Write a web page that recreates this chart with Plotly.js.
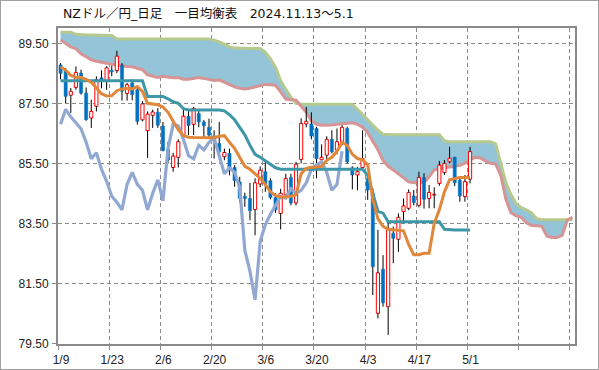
<!DOCTYPE html>
<html><head><meta charset="utf-8">
<script src="https://cdn.plot.ly/plotly-3.0.1.min.js"></script>
<style>html,body{margin:0;padding:0;background:#fff}#chart{width:597px;height:368px;border:1px solid #a0a0a0}</style>
</head><body><div id="chart"></div>
<script>
const dateLabels = ['1/9','1/23','2/6','2/20','3/6','3/20','4/3','4/17','5/1','',''];
const yTicks = [79.5, 81.5, 83.5, 85.5, 87.5, 89.5];

const opens = [88.78,88.59,87.77,88.03,88.51,87.84,87.01,87.4,88.35,88.23,
88.6,88.59,88.77,87.83,88.18,87.95,86.95,86.59,87.1,87.2,
86.74,85.96,85.36,85.7,86.41,87.07,86.8,87.16,86.88,86.7,
86.41,86.16,85.72,85.83,85.36,84.88,84.4,84.33,83.96,84.81,
85.22,84.92,84.36,83.83,84.45,85.03,84.18,85.63,86.81,86.81,
86.66,85.62,85.77,86.3,85.94,86.22,86.66,85.35,85.11,85.36,
85.0,84.5,80.5,81.97,80.72,83.17,82.97,83.89,84.0,84.41,
84.1,85.02,84.33,84.44,84.83,85.19,85.55,85.7,84.94,84.39,
84.97];
const highs = [88.84,88.68,88.01,88.73,88.62,88.03,87.62,88.4,88.6,88.74,
88.75,89.25,88.84,88.18,88.3,88.03,87.57,87.23,87.29,87.34,
86.88,86.22,85.85,86.3,87.38,87.27,87.38,87.27,86.94,86.99,
86.6,86.88,85.99,85.99,85.44,85.05,84.52,84.85,85.0,85.4,
85.6,85.0,84.5,84.65,85.15,85.15,85.55,87.0,87.38,87.2,
86.72,86.13,86.4,86.6,86.66,86.77,86.72,85.4,85.38,86.6,
85.11,84.67,83.28,82.44,83.5,83.39,83.83,84.33,84.63,84.61,
85.22,85.17,84.78,84.7,85.58,85.61,86.05,85.72,84.99,85.11,
86.05];
const lows = [88.3,87.51,87.18,87.95,87.79,86.92,86.68,87.23,88.0,87.95,
88.4,88.51,87.59,87.59,87.6,86.79,86.9,85.68,86.68,86.68,
85.9,85.5,85.22,85.36,86.33,86.44,86.44,86.7,86.36,86.33,
85.66,85.72,85.6,85.1,84.72,84.2,84.05,83.6,83.1,84.7,
84.55,84.3,83.85,83.3,84.3,84.1,84.1,85.5,86.7,86.3,
85.0,85.6,85.6,85.83,85.8,86.1,85.5,84.63,84.6,85.33,
84.28,81.11,80.33,80.72,79.78,82.17,82.55,83.5,83.94,84.1,
84.03,83.99,84.0,84.0,84.75,85.11,85.5,84.74,84.22,84.22,
84.83];
const closes = [88.5,87.73,87.9,88.53,87.84,86.95,87.23,88.29,88.25,88.68,
88.55,89.07,87.9,88.12,87.79,86.9,87.48,87.14,87.21,86.77,
85.92,85.61,85.74,86.22,87.07,86.76,87.33,86.88,86.75,86.44,
86.27,85.88,85.86,85.33,84.92,84.33,84.33,83.92,84.85,85.27,
84.81,84.36,83.95,84.5,84.99,84.18,85.47,86.83,86.9,86.41,
85.65,85.7,86.3,85.88,86.22,86.7,85.55,85.11,85.22,85.66,
84.61,82.05,81.85,80.85,83.33,83.0,83.7,84.08,84.53,84.19,
85.03,84.3,84.53,84.46,85.44,85.5,85.67,84.85,84.41,84.89,
85.89];

const tenkan = [88.72,88.6,88.43,88.37,88.36,88.3,88.2,88.02,87.82,87.74,
87.75,87.92,87.98,88.0,87.98,88.06,87.9,87.5,87.47,87.45,
87.38,87.2,86.9,86.62,86.42,86.37,86.36,86.36,86.35,86.34,
86.35,86.4,86.42,86.2,86.0,85.7,85.4,85.3,85.15,85.0,
84.8,84.55,84.42,84.38,84.38,84.4,84.45,85.15,85.33,85.37,
85.38,85.4,85.6,85.7,85.9,86.2,86.1,85.8,85.66,85.62,
85.45,84.3,83.65,83.4,83.3,83.28,83.28,83.25,82.8,82.45,
82.45,82.5,82.5,83.5,83.95,84.55,84.95,85.0,85.03,85.03,
85.03];
const kijun = [88.25,88.25,88.25,88.25,88.25,88.25,88.25,88.25,88.25,88.25,
88.25,88.25,88.25,88.25,88.25,88.25,88.25,87.73,87.73,87.73,
87.73,87.65,87.55,87.5,87.32,87.28,87.28,87.28,87.28,87.28,
87.28,87.28,87.25,87.12,86.95,86.72,86.45,86.1,85.8,85.7,
85.58,85.45,85.35,85.3,85.3,85.3,85.3,85.3,85.3,85.3,
85.3,85.3,85.3,85.3,85.3,85.3,85.3,85.3,85.3,85.3,
85.1,84.48,83.9,83.84,83.55,83.55,83.55,83.55,83.55,83.55,
83.55,83.55,83.55,83.55,83.55,83.3,83.28,83.28,83.28,83.28,
83.28];
const chikou = [86.8,87.3,87.05,86.85,86.65,86.2,85.65,85.85,85.3,84.9,
84.4,84.2,83.95,84.8,85.2,84.8,84.6,83.95,84.5,84.95,
84.25,86.0,86.8,86.75,86.3,85.75,85.65,86.1,85.95,86.2,
86.35,85.75,85.15,85.35,85.2,84.7,82.6,81.9,80.95,82.9,
83.45,83.8,84.1,84.4,84.35,84.65,84.5,84.6,84.85,85.3,
85.45,85.55,85.2,84.6,84.8,85.9];
const senkouA = [89.61,89.48,89.38,89.32,89.15,89.05,88.95,88.9,88.86,88.82,
88.8,88.78,88.75,88.73,88.72,88.68,88.62,88.45,88.4,88.36,
88.4,88.38,88.35,88.36,88.3,88.3,88.33,88.36,88.33,88.3,
88.26,88.28,88.2,88.12,88.05,88.0,87.98,88.0,88.05,88.1,
88.13,88.12,88.1,87.88,87.64,87.62,87.61,87.4,87.2,86.92,
86.8,86.77,86.77,86.78,86.8,86.82,86.84,86.85,86.8,86.7,
86.52,86.25,85.95,85.6,85.4,85.28,85.15,85.0,84.88,84.85,
84.85,84.86,85.05,85.28,85.32,85.35,85.38,85.4,85.43,85.5,
85.62,85.7,85.68,85.58,85.5,85.48,85.1,84.3,83.85,83.75,
83.7,83.52,83.43,83.42,83.4,83.08,83.03,83.03,83.1,83.61,
83.7];
const senkouB = [89.87,89.87,89.87,89.8,89.78,89.78,89.78,89.78,89.78,89.78,
89.76,89.64,89.64,89.64,89.64,89.64,89.64,89.64,89.64,89.64,
89.64,89.64,89.64,89.64,89.64,89.64,89.64,89.64,89.64,89.64,
89.6,89.55,89.47,89.38,89.34,89.33,89.33,89.33,89.33,89.33,
89.2,88.98,88.7,88.25,87.97,87.7,87.5,87.47,87.47,87.47,
87.47,87.47,87.47,87.47,87.47,87.47,87.47,87.47,87.3,87.12,
86.95,86.78,86.6,86.47,86.45,86.45,86.45,86.45,86.45,86.45,
86.45,86.45,86.45,86.45,86.45,86.25,86.22,86.22,86.22,86.22,
86.22,86.22,86.22,86.22,86.22,86.15,85.45,84.85,84.45,84.15,
84.02,83.95,83.85,83.65,83.62,83.62,83.62,83.62,83.62,83.62,
83.62];

const idx = n => Array.from({length:n}, (_, i) => i);
const xC = idx(opens.length);

// wick segments (outside the body)
const wx = [], wy = [];
xC.forEach(i => {
  const top = Math.max(opens[i], closes[i]), bot = Math.min(opens[i], closes[i]);
  wx.push(i, i, null, i, i, null);
  wy.push(lows[i], bot, null, top, highs[i], null);
});
const upX = [], upB = [], upH = [], dnX = [], dnB = [], dnH = [];
xC.forEach(i => {
  const b = Math.min(opens[i], closes[i]);
  const h = Math.max(Math.abs(closes[i] - opens[i]), 0.03);
  if (closes[i] >= opens[i]) { upX.push(i); upB.push(b); upH.push(h); }
  else { dnX.push(i); dnB.push(b); dnH.push(h); }
});

const gridX = idx(11).map(m => m * 10 - 0.5);
const yr = [79.477, 90.01];
const gc = '#8a8a8a';
const tf = {family: 'Liberation Sans, Arial, sans-serif', size: 12, color: '#222'};

const traces = [
  {x: idx(senkouB.length), y: senkouB, mode: 'lines', line: {color: '#b6c98e', width: 3}, hoverinfo: 'skip', xaxis: 'x', yaxis: 'y'},
  {x: idx(senkouA.length), y: senkouA, mode: 'lines', fill: 'tonexty', fillcolor: '#93c4d7', line: {color: '#d69494', width: 3}, hoverinfo: 'skip', xaxis: 'x', yaxis: 'y'},
  {x: wx, y: wy, mode: 'lines', line: {color: '#000', width: 1}, hoverinfo: 'skip', xaxis: 'x', yaxis: 'y2'},
  {type: 'bar', x: dnX, base: dnB, y: dnH, width: 0.62, marker: {color: '#0070c0', line: {color: '#0070c0', width: 0.5}}, xaxis: 'x', yaxis: 'y2'},
  {type: 'bar', x: upX, base: upB, y: upH, width: 0.62, marker: {color: '#ffffff', line: {color: '#ff0000', width: 1}}, xaxis: 'x', yaxis: 'y2'},
  {x: idx(chikou.length), y: chikou, mode: 'lines', line: {color: '#90a8d2', width: 3.2}, xaxis: 'x', yaxis: 'y2'},
  {x: idx(kijun.length), y: kijun, mode: 'lines', line: {color: '#3e97a7', width: 3}, xaxis: 'x', yaxis: 'y2'},
  {x: idx(tenkan.length), y: tenkan, mode: 'lines', line: {color: '#e0873a', width: 3}, xaxis: 'x', yaxis: 'y2'}
];

const layout = {
  width: 597, height: 368,
  margin: {l: 57, r: 23, t: 27, b: 25},
  paper_bgcolor: '#fff', plot_bgcolor: '#fff',
  showlegend: false, barmode: 'overlay', bargap: 0,
  title: {text: 'NZドル／円_日足　一目均衡表　2024.11.13～5.1', xref: 'container', yref: 'container',
    x: 62/597, xanchor: 'left', y: 1 - 13/368, yanchor: 'middle',
    font: {family: '"DejaVu Sans", "Noto Sans CJK JP", sans-serif', size: 12.5, color: '#111'}},
  xaxis: {range: [-0.5, 100.5], tickmode: 'array', tickvals: gridX, ticktext: dateLabels, ticklabelshift: 3,
    showgrid: true, gridcolor: gc, griddash: '4px,3px', gridwidth: 1,
    ticks: 'outside', ticklen: 4, tickcolor: gc, showline: true, linecolor: gc, linewidth: 2, mirror: true,
    zeroline: false, tickfont: tf, fixedrange: true},
  yaxis: {range: yr, tickmode: 'array', tickvals: yTicks, tickformat: '.2f', ticklabelstandoff: 1,
    showgrid: true, gridcolor: gc, griddash: '4px,3px', gridwidth: 1,
    ticks: 'outside', ticklen: 4, tickcolor: gc, showline: true, linecolor: gc, linewidth: 2, mirror: true,
    zeroline: false, tickfont: tf, fixedrange: true},
  yaxis2: {overlaying: 'y', range: yr, visible: false, fixedrange: true}
};

Plotly.newPlot('chart', traces, layout, {displayModeBar: false, staticPlot: true});
</script></body></html>
